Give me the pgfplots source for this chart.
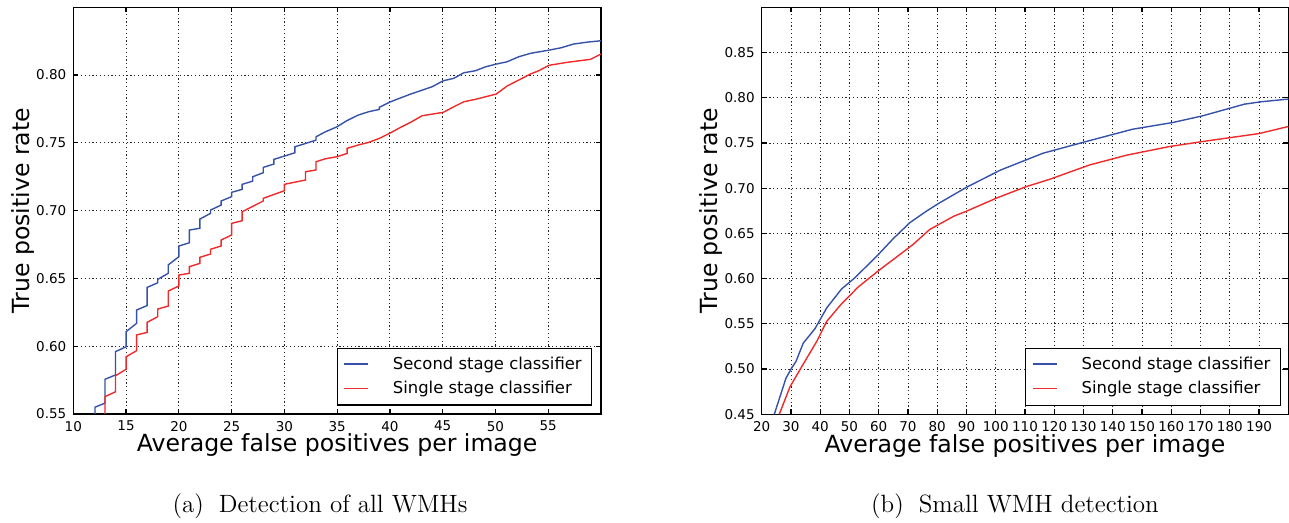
\documentclass[border=0pt]{standalone}
\usepackage{fontspec}
\usepackage{pgfplots}
\pgfplotsset{compat=1.18}
\newfontfamily\dejavu{DejaVu Sans}
\definecolor{curveblue}{HTML}{3552A8}
\definecolor{curvered}{HTML}{EE2A2A}

\pgfplotsset{
  rocstyle/.style={
    scale only axis,
    anchor=south west,
    axis line style={line width=0.7pt},
    tick style={black, line width=0.6pt},
    major tick length=2.5pt,
    grid=major,
    grid style={black!85, line width=0.45pt, dash pattern=on 0.6pt off 1.3pt},
    ticklabel style={font=\dejavu\fontsize{6.75}{8}\selectfont},
    /pgf/number format/assume math mode=true,
    yticklabel style={/pgf/number format/.cd, fixed, fixed zerofill, precision=2},
    xticklabel style={/pgf/number format/.cd, fixed, precision=0},
    label style={font=\dejavu\fontsize{11.8}{14}\selectfont},
    legend style={font=\dejavu\fontsize{8.2}{10}\selectfont, draw=black,
      line width=0.6pt, inner xsep=3pt, inner ysep=2.2pt, row sep=0.5pt,
      column sep=10pt, cells={anchor=west}},
    legend image code/.code={\draw[#1, line width=0.7pt] (0pt,0.3pt) -- (12.2pt,0.3pt);},
  }
}

\begin{document}
\begin{tikzpicture}
\useasboundingbox (0,0) rectangle (644.5pt,261.5pt);

% (a) all WMHs
\begin{axis}[rocstyle,
  at={(36.65pt,54.5pt)}, width=263.85pt, height=203.35pt,
  xmin=10, xmax=60, ymin=0.55, ymax=0.85,
  xtick={10,15,...,55}, ytick={0.55,0.60,0.65,0.70,0.75,0.80},
  xlabel={Average false positives per image},
  ylabel={True positive rate},
  xlabel style={at={(axis description cs:0.5,-0.0934)}, anchor=base},
  ylabel style={at={(axis description cs:-0.0834,0.5)}, anchor=base},
  legend style={at={(0.9835,0.0204)}, anchor=south east},
]
\addplot[curveblue, line width=0.7pt] coordinates {
(12.06,0.550) (12.06,0.555) (13.0,0.558) (13.0,0.5756) (14.0,0.5788) (14.0,0.596)
(15.0,0.5996) (15.0,0.6107) (16.0,0.6169) (16.0,0.6267) (17.0,0.630) (17.0,0.6434)
(18.0,0.6468) (18.0,0.6493) (19.0,0.6538) (19.0,0.660) (20.0,0.666) (20.0,0.6739)
(21.0,0.6763) (21.0,0.6857) (22.0,0.687) (22.0,0.6938) (23.0,0.698) (23.0,0.7004)
(24.0,0.7041) (24.0,0.7071) (25.0,0.7103) (25.0,0.7135) (26.0,0.7157) (26.0,0.7194)
(27.0,0.7218) (27.0,0.725) (28.0,0.728) (28.0,0.7319) (29.0,0.7344) (29.0,0.7378)
(31.0,0.7427) (31.0,0.7471) (33.0,0.752) (33.0,0.7545) (33.9,0.7582) (35.0,0.7619)
(35.9,0.7663) (37.0,0.7705) (38.0,0.773) (39.0,0.7747) (39.0,0.7762) (40.05,0.7803)
(41.9,0.7858) (44.0,0.7914) (45.05,0.7958) (46.05,0.7976) (47.0,0.8017) (48.1,0.8032)
(49.06,0.8061) (50.07,0.8081) (51.1,0.8098) (52.2,0.8135) (53.3,0.816) (55.07,0.8184)
(56.2,0.8201) (57.4,0.8229) (58.7,0.8243) (60,0.8253)
};
\addlegendentry{Second stage classifier}
\addplot[curvered, line width=0.7pt] coordinates {
(13.0,0.550) (13.0,0.5628) (14.0,0.5664) (14.0,0.5782) (15.0,0.583) (15.0,0.5922)
(16.0,0.5967) (16.0,0.6083) (17.0,0.6102) (17.0,0.6176) (18.0,0.6218) (18.0,0.6274)
(19.0,0.6296) (19.0,0.6407) (20.0,0.6444) (20.0,0.6525) (21.0,0.6538) (21.0,0.6587)
(22.0,0.6611) (22.0,0.6656) (23.0,0.668) (23.0,0.6715) (24.0,0.6739) (24.0,0.6783)
(25.0,0.682) (25.0,0.6906) (26.0,0.6926) (26.0,0.6992) (28.0,0.7071) (28.0,0.7091)
(30.0,0.7147) (30.0,0.7194) (32.0,0.7226) (32.0,0.7287) (33.0,0.730) (33.0,0.7361)
(33.9,0.7383) (35.0,0.7398) (35.95,0.7422) (35.95,0.746) (37.0,0.7484) (38.0,0.7504)
(39.0,0.7533) (40.05,0.7574) (41.0,0.7614) (41.95,0.7651) (43.05,0.770) (44.0,0.7712)
(45.05,0.7725) (46.05,0.7766) (47.0,0.7803) (48.1,0.7821) (49.06,0.784) (50.07,0.786)
(51.1,0.7919) (52.2,0.7963) (53.3,0.8007) (54.1,0.8032) (55.07,0.8072) (56.8,0.8094)
(59.0,0.8116) (60,0.8155)
};
\addlegendentry{Single stage classifier}
\end{axis}

% (b) small WMHs
\begin{axis}[rocstyle,
  at={(380.85pt,54.35pt)}, width=263.3pt, height=203.5pt,
  xmin=20, xmax=200, ymin=0.45, ymax=0.90,
  xtick={20,30,...,190}, ytick={0.45,0.50,0.55,0.60,0.65,0.70,0.75,0.80,0.85},
  xlabel={Average false positives per image},
  ylabel={True positive rate},
  xlabel style={at={(axis description cs:0.5,-0.0934)}, anchor=base},
  ylabel style={at={(axis description cs:-0.0849,0.5)}, anchor=base},
  legend style={at={(0.9861,0.0211)}, anchor=south east},
]
\addplot[curveblue, line width=0.7pt] coordinates {
(24.3,0.45) (28.3,0.49) (30.2,0.501) (31.7,0.5083) (34.2,0.5287) (38.2,0.5446)
(42.2,0.5675) (47.3,0.5886) (51.8,0.6008) (55.8,0.6136) (60.4,0.6285) (64.9,0.644)
(70.6,0.6618) (76.3,0.6746) (80.6,0.6834) (90,0.701) (101.6,0.72) (116.1,0.7386)
(130.3,0.7511) (146.8,0.7652) (160.5,0.7726) (170.7,0.78) (185,0.7929) (190.6,0.7955)
(200,0.7985)
};
\addlegendentry{Second stage classifier}
\addplot[curvered, line width=0.7pt] coordinates {
(26,0.45) (29.7,0.4806) (33.7,0.5028) (38.8,0.5305) (42.2,0.5527) (47.3,0.5722)
(53,0.5908) (60.4,0.61) (67.2,0.6266) (71.7,0.6377) (77.4,0.6543) (85.7,0.6691)
(90,0.6746) (100.6,0.6895) (110.4,0.7017) (118.4,0.7098) (132,0.7256) (144.6,0.7364)
(159.3,0.746) (170.7,0.7516) (190,0.7604) (200,0.7682)
};
\addlegendentry{Single stage classifier}
\end{axis}

\node[anchor=base, font=\fontsize{12.5}{15}\selectfont] at (160pt,5pt) {(a)\hspace{0.6em}Detection of all WMHs};
\node[anchor=base, font=\fontsize{12.5}{15}\selectfont] at (507.5pt,5pt) {(b)\hspace{0.6em}Small WMH detection};
\end{tikzpicture}
\end{document}
